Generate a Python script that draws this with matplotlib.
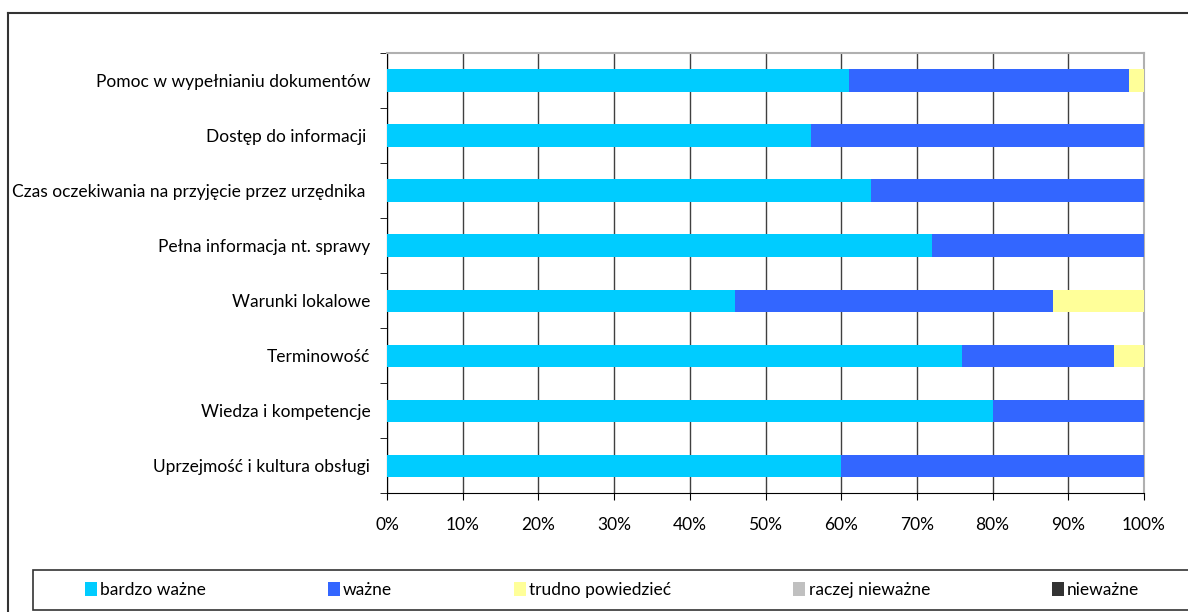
import matplotlib.pyplot as plt
import numpy as np
from matplotlib.lines import Line2D
from matplotlib.patches import Rectangle

plt.rcParams['font.family'] = ['Lato', 'DejaVu Sans']

categories = ["Pomoc w wypełnianiu dokumentów", "Dostęp do informacji ",
              "Czas oczekiwania na przyjęcie przez urzędnika ", "Pełna informacja nt. sprawy",
              "Warunki lokalowe", "Terminowość", "Wiedza i kompetencje",
              "Uprzejmość i kultura obsługi"]
bardzo_wazne = [61, 56, 64, 72, 46, 76, 80, 60]
wazne = [37, 44, 36, 28, 42, 20, 20, 40]
trudno = [2, 0, 0, 0, 12, 4, 0, 0]
raczej_niewazne = [0, 0, 0, 0, 0, 0, 0, 0]
niewazne = [0, 0, 0, 0, 0, 0, 0, 0]

series = [("bardzo ważne", bardzo_wazne, "#00CCFF"),
          ("ważne", wazne, "#3366FF"),
          ("trudno powiedzieć", trudno, "#FFFF99"),
          ("raczej nieważne", raczej_niewazne, "#C0C0C0"),
          ("nieważne", niewazne, "#333333")]

fig = plt.figure(figsize=(11.88, 6.12), dpi=100)
ax = fig.add_axes([387 / 1188, 1 - 493 / 612, 757 / 1188, 440 / 612])

y = np.arange(len(categories))[::-1]
left = np.zeros(len(categories))
for name, vals, color in series:
    vals = np.array(vals, dtype=float)
    ax.barh(y, vals, left=left, height=0.4, color=color, label=name, zorder=3)
    left += vals

ax.set_xlim(0, 100)
ax.set_ylim(-0.5, len(categories) - 0.5)
ax.set_xticks(np.arange(0, 101, 10))
ax.set_xticklabels([f"{v}%" for v in range(0, 101, 10)], fontsize=12.5)
ax.set_yticks(y)
ax.set_yticklabels(categories, fontsize=12.5)
ax.tick_params(axis='y', length=0, pad=12)
ax.set_yticks(np.arange(-0.5, len(categories), 1), minor=True)
ax.tick_params(axis='y', which='minor', length=5, direction='out')
ax.tick_params(axis='x', length=5, direction='out', pad=12)
ax.grid(axis='x', color='#404040', linewidth=1, zorder=0)
for s in ['top', 'right']:
    ax.spines[s].set_color('#b0b0b0')
    ax.spines[s].set_linewidth(1.5)
for s in ['left', 'bottom']:
    ax.spines[s].set_color('black')

# outer chart border
fig.add_artist(Line2D([8 / 1188, 1], [1 - 13 / 612, 1 - 13 / 612], color='#333333', lw=1.5))
fig.add_artist(Line2D([8 / 1188, 8 / 1188], [0, 1 - 13 / 612], color='#333333', lw=1.5))

# legend box
fig.add_artist(Rectangle((33 / 1188, 1 - 610 / 612), 1.0, 40 / 612, transform=fig.transFigure,
                         facecolor='white', edgecolor='#333333', lw=1.2))
leg = fig.legend(loc='center', bbox_to_anchor=(612 / 1188, 1 - 590 / 612),
                 ncol=5, fontsize=12.5, frameon=False, columnspacing=7.0,
                 handlelength=0.7, handleheight=0.9, handletextpad=0.2)

plt.savefig("out.png", dpi=100)
